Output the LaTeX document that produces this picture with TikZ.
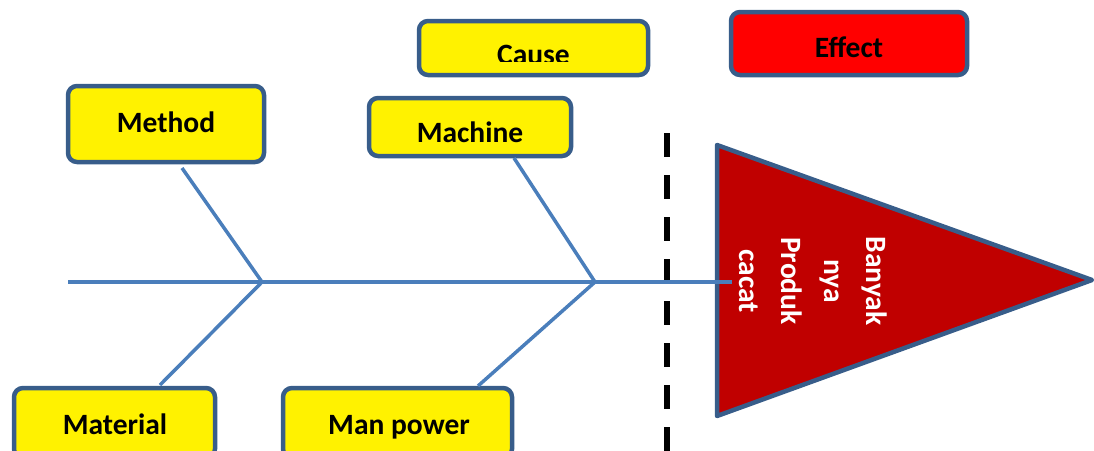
\documentclass[tikz,border=0pt]{standalone}
\usepackage{fontspec}
\setmainfont{Carlito}
\begin{document}
\definecolor{boxline}{HTML}{385D8A}
\definecolor{bone}{HTML}{4A7EBB}
\definecolor{headred}{HTML}{C00000}
\begin{tikzpicture}[x=1pt,y=-1pt,
  box/.style={draw=boxline, line width=4.5pt, rounded corners=9pt, inner sep=0pt},
  cause/.style={box, fill=yellow},
  effect/.style={box, fill=red},
  lbl/.style={inner sep=0pt, font=\bfseries\fontsize{29.5}{35}\selectfont, anchor=base},
  bonestyle/.style={draw=bone, line width=3.5pt}]
\useasboundingbox (0,0) rectangle (1094,450);

% legend boxes
\node[cause, minimum width=229pt, minimum height=54pt] (causebox) at (533.5,48) {};
\begin{scope}
  \clip (400,0) rectangle (700,61);
  \node[lbl] (causet) at (533.5,64) {Cause};
\end{scope}
\node[effect, minimum width=236pt, minimum height=63pt] (effectbox) at (849,43.5) {};
\node[lbl] (effectt) at (849,57) {Effect};

% cause boxes
\node[cause, minimum width=196pt, minimum height=76pt] (method) at (166,124) {};
\node[lbl] (methodt) at (166,132) {Method};
\node[cause, minimum width=202pt, minimum height=58pt] (machine) at (470,127) {};
\node[lbl] (machinet) at (470,142) {Machine};
\node[cause, minimum width=201pt, minimum height=70pt] (material) at (114.5,423) {};
\node[lbl] (materialt) at (115,434) {Material};
\node[cause, minimum width=229pt, minimum height=70pt] (manpower) at (397.5,423) {};
\node[lbl] (manpowert) at (399,434) {Man power};

% divider between causes and effect
\coordinate (dtop) at (667,133);
\coordinate (dbot) at (667,460);
\draw[line width=5.5pt, dash pattern=on 24pt off 18pt] (dtop) -- (dbot);

% fish head
\coordinate (h1) at (717,145);
\coordinate (h2) at (1092,280);
\coordinate (h3) at (717,416);
\draw[draw=boxline, fill=headred, line width=4.5pt, line join=round] (h1) -- (h2) -- (h3) -- cycle;
\node[rotate=-90, align=center, text=white, inner sep=0pt,
  font=\bfseries\fontsize{29.5}{42.5}\selectfont] (headt) at (813,281) {Banyak\\nya\\Produk\\cacat};

% spine and bones
\coordinate (tail) at (68,282);
\coordinate (j1) at (262,282);
\coordinate (j2) at (595,282);
\coordinate (nose) at (732,282);
\coordinate (mt) at (182,168);
\coordinate (ma) at (160,385);
\coordinate (mc) at (514,158);
\coordinate (mp) at (478,386);
\draw[bonestyle] (tail) -- (nose);
\draw[bonestyle] (mt) -- (j1) -- (ma);
\draw[bonestyle] (mc) -- (j2) -- (mp);
\end{tikzpicture}
\end{document}
